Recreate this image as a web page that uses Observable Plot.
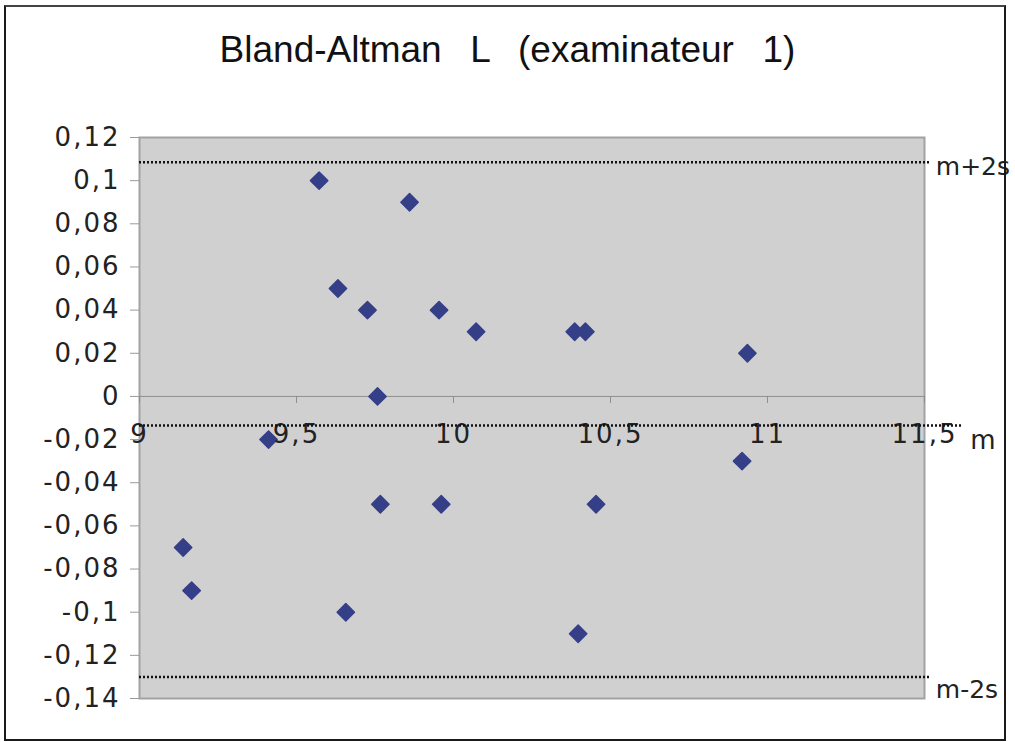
<!DOCTYPE html>
<html><head><meta charset="utf-8">
<script src="https://cdn.jsdelivr.net/npm/d3@7"></script>
<script src="https://cdn.jsdelivr.net/npm/@observablehq/plot@0.6"></script>
<style>
html,body{margin:0;padding:0;background:#fff;}
#wrap{position:relative;width:1015px;height:742px;overflow:hidden;background:#fff;}
#border{position:absolute;left:4px;top:5px;width:998px;height:732px;border:2px solid #1a1a1a;border-top-color:#444;pointer-events:none;z-index:2;}
#title{position:absolute;top:29px;left:0;width:1015px;text-align:center;font-family:"Liberation Sans",Arial,sans-serif;font-size:37px;white-space:pre;word-spacing:4px;color:#111;}
#chart{position:absolute;left:0;top:100px;}
</style></head><body>
<div id="wrap"><div id="title">Bland-Altman  L  (examinateur  1)</div><div id="chart"></div><div id="border"></div></div>
<script>
// moyenne des deux mesures (x) et différence (y)
const meanValues = [9.572, 9.860, 9.632, 9.726, 9.954, 10.072, 10.386, 10.420, 10.936, 9.758, 9.411, 10.919, 9.767, 9.961, 10.454, 9.139, 9.166, 9.657, 10.397];
const differences = [0.10, 0.09, 0.05, 0.04, 0.04, 0.03, 0.03, 0.03, 0.02, 0.00, -0.02, -0.03, -0.05, -0.05, -0.05, -0.07, -0.09, -0.10, -0.11];
const xTicks = [9, 9.5, 10, 10.5, 11, 11.5];
const yTicks = [0.12, 0.1, 0.08, 0.06, 0.04, 0.02, 0, -0.02, -0.04, -0.06, -0.08, -0.1, -0.12, -0.14];
const limitLabels = ["m+2s", "m", "m-2s"];
const limitValues = [0.1085, -0.0135, -0.130];
const limitStarts = [9, 9, 9];
const limitEnds = [11.52, 11.62, 11.52];

const points = meanValues.map((x, i) => ({x, y: differences[i]}));
const limits = limitLabels.map((label, i) => ({label, value: limitValues[i], start: limitStarts[i], end: limitEnds[i]}));
const fmt = d => String(+d.toFixed(2)).replace(".", ",");

const font = {fontSize: 26, fill: "#222"};
const chart = Plot.plot({
  width: 1015, height: 642,
  marginTop: 37, marginBottom: 44, marginLeft: 139, marginRight: 91,
  style: {fontFamily: "'DejaVu Sans', sans-serif", fontSize: "26px", letterSpacing: "2px", background: "transparent", color: "#222", overflow: "visible"},
  x: {domain: [9, 11.5], axis: null},
  y: {domain: [-0.14, 0.12], axis: null},
  marks: [
    Plot.frame({fill: "#d0d0d0", stroke: "#a2a2a2", strokeWidth: 2}),
    Plot.ruleY([0], {stroke: "#8e8e8e", strokeWidth: 1}),
    Plot.ruleX(xTicks, {x: d => d, y1: 0, y2: 0, insetBottom: -7, stroke: "#8e8e8e"}),
    Plot.axisY(yTicks, {tickSize: 9, tickPadding: 10, tickFormat: fmt, stroke: "#9a9a9a", ...font, label: null}),
    Plot.dot(points, {x: "x", y: "y", symbol: "diamond2", r: 7.8, fill: "#353f88", stroke: "#353f88", strokeWidth: 1.5, strokeLinejoin: "round"}),
    Plot.text(xTicks, {x: d => d, y: 0, text: fmt, dy: 38, ...font}),
    Plot.ruleY(limits, {y: "value", x1: "start", x2: "end", stroke: "#111", strokeWidth: 2.5, strokeDasharray: "2 2"}),
    Plot.text(limits.filter(d => d.label === "m+2s"), {x: "end", y: "value", text: "label", textAnchor: "start", dx: 5, dy: 5, fontSize: 25, fill: "#222"}),
    Plot.text(limits.filter(d => d.label === "m"), {x: "end", y: "value", text: "label", textAnchor: "start", dx: 8, dy: 15, ...font}),
    Plot.text(limits.filter(d => d.label === "m-2s"), {x: "end", y: "value", text: "label", textAnchor: "start", dx: 5, dy: 13, fontSize: 25, fill: "#222"})
  ]
});
d3.select(chart).selectAll("text")
  .filter(function() { return limitLabels.includes(this.textContent); })
  .style("letter-spacing", "0px");
document.getElementById("chart").appendChild(chart);
</script>
</body></html>
